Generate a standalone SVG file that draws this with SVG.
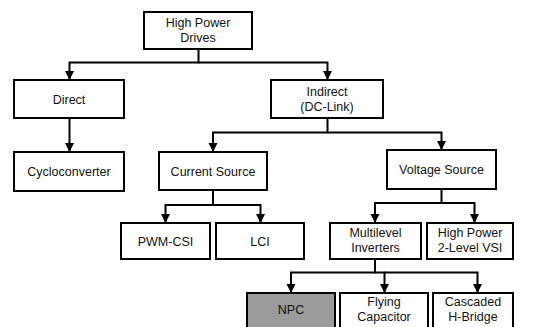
<svg xmlns="http://www.w3.org/2000/svg" width="554" height="327" viewBox="0 0 554 327">
<defs>
<marker id="ah" markerUnits="userSpaceOnUse" markerWidth="10" markerHeight="10" refX="9" refY="4.5" orient="auto">
<path d="M0,0 L9,4.5 L0,9 z" fill="#000"/>
</marker>
<style>
.box{fill:#fff;stroke:#000;stroke-width:2}
.gray{fill:#9b9b9b}
.t{font-family:"Liberation Sans",Arial,sans-serif;font-size:12.5px;fill:#111;text-anchor:middle}
.c{fill:none;stroke:#000;stroke-width:2;marker-end:url(#ah)}
</style>
</defs>
<rect width="554" height="327" fill="#fff"/>
<g id="connectors">
<path class="c" d="M198.5,49 V62.5 H69.5 V80"/>
<path class="c" d="M198.5,62.5 H327.5 V80"/>
<path class="c" d="M69.5,118 V152"/>
<path class="c" d="M327.5,118 V132.5 H213 V152"/>
<path class="c" d="M327.5,132.5 H441.5 V150"/>
<path class="c" d="M213,190 V205 H165.5 V223"/>
<path class="c" d="M213,205 H260.5 V223"/>
<path class="c" d="M441.5,189 V203 H375 V223"/>
<path class="c" d="M441.5,203 H474.5 V223"/>
<path class="c" d="M375,259 V272.5 H291 V293"/>
<path class="c" d="M375,272.5 H384.5 V293"/>
<path class="c" d="M384.5,272.5 H477.5 V293"/>
</g>
<g id="high-power-drives"><rect class="box" x="144" y="12" width="108" height="37"/><text class="t" x="198" y="27">High Power</text><text class="t" x="198" y="42">Drives</text></g>
<g id="direct"><rect class="box" x="14" y="80" width="110" height="38"/><text class="t" x="69" y="103.5">Direct</text></g>
<g id="indirect"><rect class="box" x="271" y="80" width="112" height="38"/><text class="t" x="327" y="95.5">Indirect</text><text class="t" x="327" y="111">(DC-Link)</text></g>
<g id="cycloconverter"><rect class="box" x="14" y="152" width="110" height="39"/><text class="t" x="69" y="175.5">Cycloconverter</text></g>
<g id="current-source"><rect class="box" x="159" y="152" width="108" height="38"/><text class="t" x="213" y="175.5">Current Source</text></g>
<g id="voltage-source"><rect class="box" x="387" y="150" width="109" height="39"/><text class="t" x="441.5" y="174">Voltage Source</text></g>
<g id="pwm-csi"><rect class="box" x="121" y="223" width="89" height="36"/><text class="t" x="165.5" y="245.5">PWM-CSI</text></g>
<g id="lci"><rect class="box" x="216" y="223" width="88" height="36"/><text class="t" x="260" y="245.5">LCI</text></g>
<g id="multilevel"><rect class="box" x="330" y="223" width="91" height="36"/><text class="t" x="375.5" y="237">Multilevel</text><text class="t" x="375.5" y="252">Inverters</text></g>
<g id="hp-2level-vsi"><rect class="box" x="427" y="223" width="86" height="36"/><text class="t" x="470" y="237">High Power</text><text class="t" x="470" y="252">2-Level VSI</text></g>
<g id="npc"><rect class="box gray" x="247" y="293" width="88" height="42"/><text class="t" x="291" y="314">NPC</text></g>
<g id="flying-capacitor"><rect class="box" x="340" y="293" width="88" height="42"/><text class="t" x="384" y="306">Flying</text><text class="t" x="384" y="321">Capacitor</text></g>
<g id="cascaded-h-bridge"><rect class="box" x="433" y="293" width="80" height="42"/><text class="t" x="473" y="306">Cascaded</text><text class="t" x="473" y="321">H-Bridge</text></g>
</svg>
